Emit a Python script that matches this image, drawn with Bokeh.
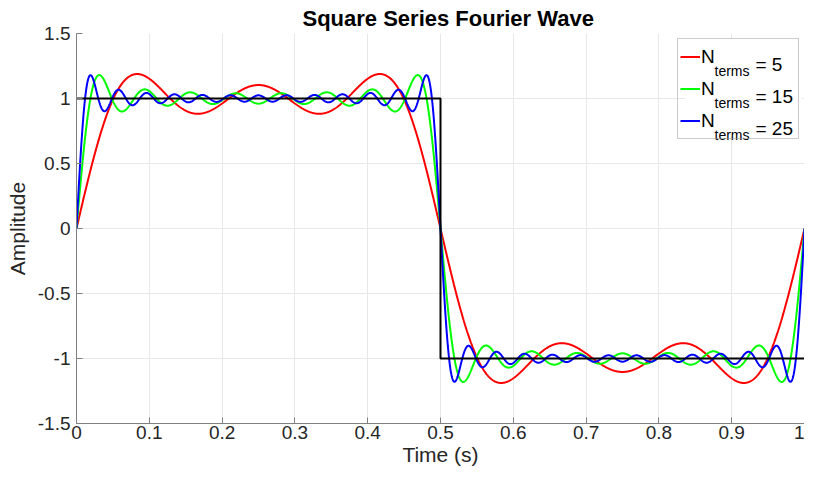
import numpy as np
from bokeh.plotting import figure
from bokeh.models import FixedTicker, Legend, LegendItem, Label, BoxAnnotation
from bokeh.embed import file_html
from bokeh.resources import INLINE

# ---- data ----
N_TERMS = [5, 15, 25]                      # harmonics included (n = 1..N, odd n contribute)
SERIES_COLORS = ["#ff0000", "#00ff00", "#0000ff"]
PERIOD = 1.0
AMPLITUDE = 1.0
TIME = np.linspace(0.0, 1.0, 2001)

SQUARE_T = [0.0, 0.5, 0.5, 1.0]
SQUARE_Y = [1.0, 1.0, -1.0, -1.0]

XTICKS = [0, 0.1, 0.2, 0.3, 0.4, 0.5, 0.6, 0.7, 0.8, 0.9, 1.0]
XTICK_LABELS = ["0", "0.1", "0.2", "0.3", "0.4", "0.5", "0.6", "0.7", "0.8", "0.9", "1"]
YTICKS = [-1.5, -1.0, -0.5, 0.0, 0.5, 1.0, 1.5]
YTICK_LABELS = ["-1.5", "-1", "-0.5", "0", "0.5", "1", "1.5"]


def fourier_square(t, n_max):
    y = np.zeros_like(t)
    for n in range(1, n_max + 1, 2):
        y += 4 * AMPLITUDE / np.pi * np.sin(2 * np.pi * n * t / PERIOD) / n
    return y


FONT = "Liberation Sans"
TICK_COLOR = "#262626"
AXIS_COLOR = "#808080"
GRID_COLOR = "#e8e8e8"

p = figure(width=804, height=468, x_range=(0, 1), y_range=(-1.5, 1.5),
           output_backend="svg", toolbar_location=None,
           min_border_left=76, min_border_right=0, min_border_top=27, min_border_bottom=45,
           title="Square Series Fourier Wave")
p.outline_line_color = None
p.background_fill_color = "white"
p.border_fill_color = "white"

p.title.text_font = FONT
p.title.text_font_size = "22px"
p.title.text_font_style = "bold"
p.title.text_color = "black"
p.title.align = "left"
p.title.standoff = 6
p.title.offset = 226

for ax, ticks, labels in ((p.xaxis[0], XTICKS, XTICK_LABELS), (p.yaxis[0], YTICKS, YTICK_LABELS)):
    ax.ticker = FixedTicker(ticks=ticks)
    ax.major_label_overrides = {t: l for t, l in zip(ticks, labels)}
    ax.major_label_text_font = FONT
    ax.major_label_text_font_size = "19px"
    ax.major_label_text_color = TICK_COLOR
    ax.axis_line_color = AXIS_COLOR
    ax.major_tick_line_color = AXIS_COLOR
    ax.major_tick_in = 6
    ax.major_tick_out = 0
    ax.minor_tick_line_color = None
    ax.axis_label_text_font = FONT
    ax.axis_label_text_font_size = "21px"
    ax.axis_label_text_font_style = "normal"
    ax.axis_label_text_color = TICK_COLOR

p.xaxis.axis_label = "Time (s)"
p.yaxis.axis_label = "Amplitude"
p.xaxis.major_label_standoff = 2
p.yaxis.major_label_standoff = 6
p.xaxis.axis_label_standoff = 1
p.yaxis.axis_label_standoff = 6

p.xgrid.ticker = FixedTicker(ticks=XTICKS)
p.ygrid.ticker = FixedTicker(ticks=YTICKS)
p.grid.grid_line_color = GRID_COLOR
p.grid.grid_line_width = 1

# white backing of the legend box (covers the grid)
p.add_layout(BoxAnnotation(left=0.836, right=0.996, top=1.455, bottom=0.71,
                           fill_color="white", fill_alpha=1, line_color=None, level="underlay"))

renderers = []
for n, c in zip(N_TERMS, SERIES_COLORS):
    r = p.line(TIME, fourier_square(TIME, n), line_color=c, line_width=2)
    renderers.append(r)
p.line(SQUARE_T, SQUARE_Y, line_color="black", line_width=2)

legend = Legend(items=[LegendItem(label="N", renderers=[r]) for r in renderers],
                location="top_right", margin=5, padding=2, spacing=1,
                glyph_width=20, glyph_height=31, label_height=31, label_width=95,
                label_standoff=1,
                label_text_font=FONT, label_text_font_size="19px", label_text_color="black",
                border_line_color="#999999", border_line_width=1,
                background_fill_alpha=0)
p.add_layout(legend)

# subscript / value parts of legend labels (screen coords from the frame's bottom-left)
FRAME_BOTTOM_PAGE = 423.0
for i, n in enumerate(N_TERMS):
    row_c = 57.5 + 32 * i
    p.add_layout(Label(x=638, y=FRAME_BOTTOM_PAGE - (row_c + 12.6), x_units="screen", y_units="screen",
                       text="terms", text_font=FONT, text_font_size="14px",
                       text_color="black", text_baseline="alphabetic", text_align="left"))
    p.add_layout(Label(x=679, y=FRAME_BOTTOM_PAGE - (row_c + 6.6), x_units="screen", y_units="screen",
                       text="= %d" % n, text_font=FONT, text_font_size="19px",
                       text_color="black", text_baseline="alphabetic", text_align="left"))

open("out.html", "w").write(file_html(p, INLINE))
